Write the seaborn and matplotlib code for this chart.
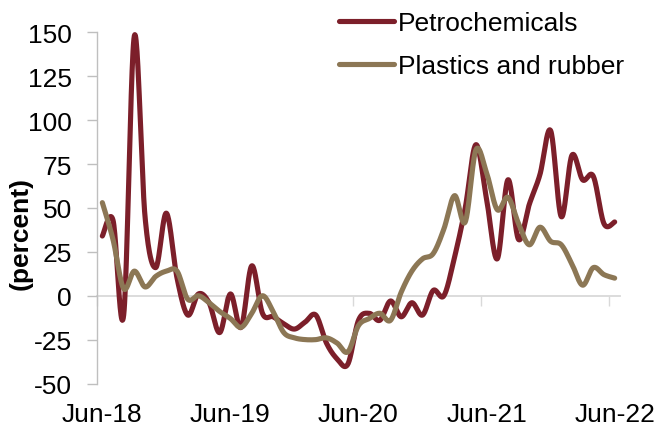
import numpy as np
import pandas as pd
import matplotlib
matplotlib.use("Agg")
import matplotlib.pyplot as plt
import seaborn as sns

# ---------------------------
# Data, monthly Jun-18 .. Jun-22
# ---------------------------
months = pd.date_range("2018-06-01", "2022-06-01", freq="MS")

petrochemicals = [34, 43, -11, 148, 45, 16, 47, 10, -11, 1, -4, -21,
                  1, -18, 17, -10, -12, -16, -19, -15, -11, -27, -36, -39,
                  -14, -10, -14, -3, -12, -4, -11, 3, 0, 22, 50, 86,
                  55, 21, 66, 32, 52, 69, 94, 45, 80, 66, 68, 41, 42]

plastics_rubber = [53, 32, 4, 14, 5, 11, 14, 14, -2, 0, -4, -9,
                   -13, -18, -10, 0, -9, -21, -24, -25, -25, -24, -27, -32,
                   -17, -13, -10, -14, 2, 14, 21, 24, 38, 57, 42, 83,
                   70, 49, 56, 41, 29, 39, 31, 29, 18, 6, 16, 12, 10]

series_names = ["Petrochemicals", "Plastics and rubber"]
series_colors = ["#7C1F2A", "#8C7755"]
tick_labels = ["Jun-18", "Jun-19", "Jun-20", "Jun-21", "Jun-22"]
y_ticks = list(range(-50, 151, 25))


def smooth_line(values, steps=24):
    """
    Excel-style smoothed line: cubic bezier between each pair of points,
    control points taken from the neighbouring points.
    """
    y = np.asarray(values, dtype=float)
    x = np.arange(len(y), dtype=float)
    n = len(y)
    xs, ys = [], []
    t = np.linspace(0, 1, steps, endpoint=False)
    for i in range(n - 1):
        p0 = i - 1 if i > 0 else i
        p3 = i + 2 if i + 2 < n else i + 1
        c1x = x[i] + (x[i + 1] - x[p0]) / 6
        c1y = y[i] + (y[i + 1] - y[p0]) / 6
        c2x = x[i + 1] - (x[p3] - x[i]) / 6
        c2y = y[i + 1] - (y[p3] - y[i]) / 6
        b0 = (1 - t) ** 3
        b1 = 3 * (1 - t) ** 2 * t
        b2 = 3 * (1 - t) * t ** 2
        b3 = t ** 3
        xs.append(b0 * x[i] + b1 * c1x + b2 * c2x + b3 * x[i + 1])
        ys.append(b0 * y[i] + b1 * c1y + b2 * c2y + b3 * y[i + 1])
    xs.append([x[-1]])
    ys.append([y[-1]])
    return np.concatenate(xs), np.concatenate(ys)


frames = []
for name, vals in zip(series_names, [petrochemicals, plastics_rubber]):
    sx, sy = smooth_line(vals)
    frames.append(pd.DataFrame({"x": sx, "y": sy, "series": name}))
df = pd.concat(frames, ignore_index=True)

# ---------------------------
# Plot
# ---------------------------
sns.set_theme(style="white")
plt.rcParams["font.family"] = ["Liberation Sans", "DejaVu Sans"]
plt.rcParams["text.color"] = "black"
plt.rcParams["axes.labelcolor"] = "black"
plt.rcParams["xtick.labelcolor"] = "black"
plt.rcParams["ytick.labelcolor"] = "black"

FS = 19

fig = plt.figure(figsize=(6.65, 4.27), dpi=100)
ax = fig.add_axes([97 / 665, 0.0995, 523 / 665, 0.8225])

sns.lineplot(data=df, x="x", y="y", hue="series", palette=series_colors,
             hue_order=series_names, estimator=None, sort=False,
             linewidth=3.7, ax=ax)
for ln in ax.get_lines():
    ln.set_solid_capstyle("round")
    ln.set_solid_joinstyle("round")

ax.set_xlim(-0.5, len(months) - 0.5)
ax.set_ylim(-50, 150)

# y axis
ax.set_yticks(y_ticks)
ax.set_yticklabels([str(v) for v in y_ticks])
ax.tick_params(axis="y", direction="out", length=7, width=1, color="#BFBFBF",
               labelsize=FS, labelcolor="black", pad=11, left=True)
for side in ["top", "right", "bottom"]:
    ax.spines[side].set_visible(False)
ax.spines["left"].set_color("#BFBFBF")
ax.spines["left"].set_linewidth(1)

# x labels sit at the bottom, centred on the June points
year_idx = [i for i, m in enumerate(months) if m.month == 6]
ax.set_xticks(year_idx)
ax.set_xticklabels(tick_labels)
ax.tick_params(axis="x", length=0, labelsize=FS, labelcolor="black", pad=13)
ax.set_xlabel("")

# horizontal axis line at zero, ticks between months
zero_frac = (0 - (-50)) / (150 - (-50))
sec = ax.secondary_xaxis(zero_frac)
sec.set_xticks([i - 0.5 for i in year_idx])
sec.set_xticklabels([])
sec.tick_params(direction="out", length=7, width=1, color="#D9D9D9")
sec.spines["bottom"].set_color("#D9D9D9")
sec.spines["bottom"].set_linewidth(1.3)

ax.set_ylabel("(percent)", fontsize=FS, fontweight="bold", color="black")
ax.yaxis.set_label_coords(-0.124, 0.43)

# legend
handles = ax.get_lines()[:2]
ax.get_legend().remove()
leg = fig.legend(handles, series_names, loc="upper left",
                 bbox_to_anchor=(339 / 665, 1 - 12 / 427), frameon=False,
                 fontsize=FS, handlelength=2.1, handletextpad=0.15,
                 labelspacing=0.72, borderpad=0, borderaxespad=0)
for txt in leg.get_texts():
    txt.set_color("black")

fig.savefig("out.png", dpi=100)
